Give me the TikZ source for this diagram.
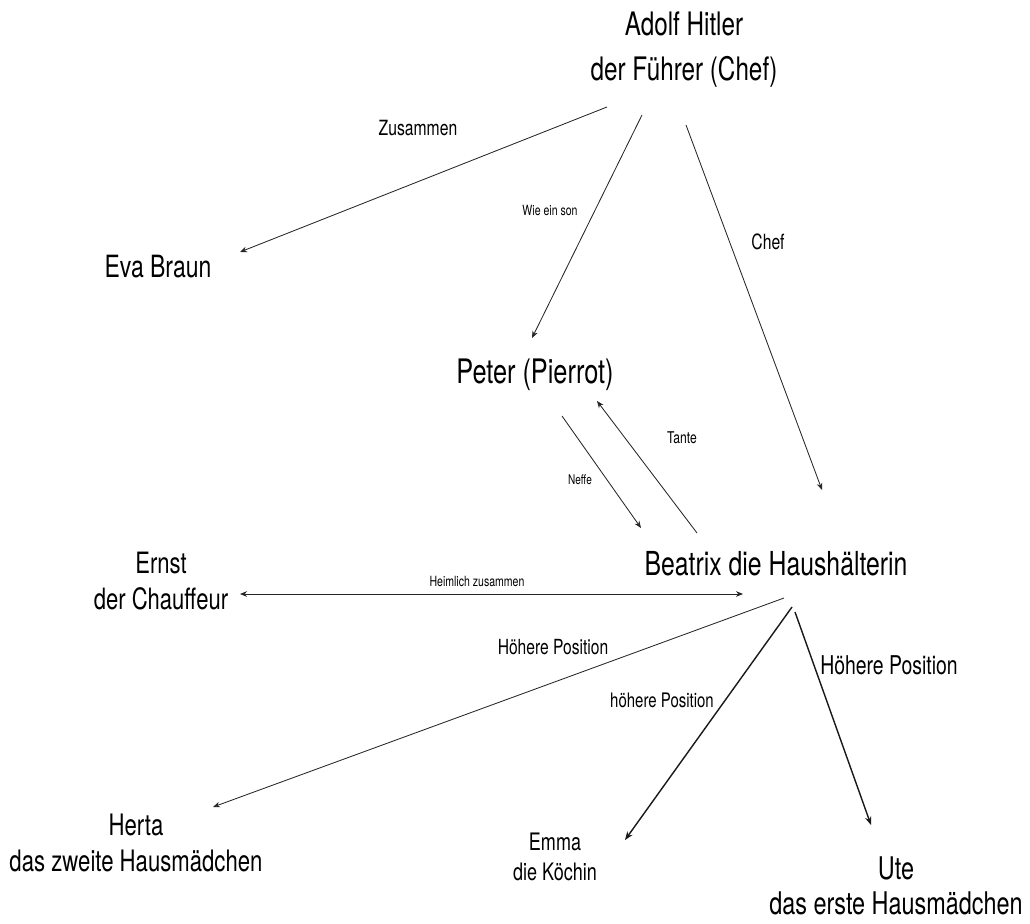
\documentclass[tikz,border=0pt]{standalone}
\usepackage{fontspec}
\setmainfont{TeX Gyre Heros}[FakeStretch=0.75]
\usetikzlibrary{arrows.meta,calc}

\newcommand{\fsz}[2]{\fontsize{#1pt}{#2pt}\selectfont}

\tikzset{
  person/.style={align=center, inner sep=0pt},
  rellabel/.style={inner sep=0pt},
  link/.style={line width=0.6pt, draw=black!85, -{Stealth[length=5pt,width=4pt]}},
  bothlink/.style={line width=0.6pt, draw=black!85, {Stealth[length=5pt,width=4pt]}-{Stealth[length=5pt,width=4pt]}},
  boldlink/.style={line width=1pt, draw=black!90, -{Stealth[length=6pt,width=4.5pt]}}
}

\begin{document}
\begin{tikzpicture}[x=0.025cm, y=-0.025cm]
  \useasboundingbox (0,0) rectangle (1030,924);

  % People
  \node[person, font=\fsz{23}{32}] (hitler) at (684,50) {Adolf Hitler\\der Führer (Chef)};
  \node[person, font=\fsz{21.8}{25}] (eva) at (158,267) {Eva Braun};
  \node[person, font=\fsz{24}{27}] (peter) at (535,375) {Peter (Pierrot)};
  \node[person, font=\fsz{23.5}{27}] (beatrix) at (776,564) {Beatrix die Haushälterin};
  \node[person, font=\fsz{20.9}{25}] (ernst) at (161,581) {Ernst\\der Chauffeur};
  \node[person, font=\fsz{21}{25}] (herta) at (136,843) {Herta\\das zweite Hausmädchen};
  \node[person, font=\fsz{17.1}{21}] (emma) at (555,857) {Emma\\die Köchin};
  \node[person, font=\fsz{22.2}{25}] (ute) at (896,886) {Ute\\das erste Hausmädchen};

  % Relation labels
  \node[rellabel, font=\fsz{14.9}{17}] (zusammen) at (418,128) {Zusammen};
  \node[rellabel, font=\fsz{10}{12}] (wieson) at (550,210) {Wie ein son};
  \node[rellabel, font=\fsz{14.9}{17}] (chef) at (768,242) {Chef};
  \node[rellabel, font=\fsz{11.5}{13}] (tante) at (682,438) {Tante};
  \node[rellabel, font=\fsz{9.5}{11}] (neffe) at (580,480) {Neffe};
  \node[rellabel, font=\fsz{10}{12}] (heimlich) at (477,581) {Heimlich zusammen};
  \node[rellabel, font=\fsz{14.8}{17}] (posherta) at (553,647) {Höhere Position};
  \node[rellabel, font=\fsz{14.2}{16}] (posemma) at (662,700) {höhere Position};
  \node[rellabel, font=\fsz{18.4}{21}] (posute) at (889,665) {Höhere Position};

  % Connectors from Hitler
  \draw[link] ($(hitler)+(-77,57)$) -- ($(eva)+(82,-15)$);
  \draw[link] ($(hitler)+(-42,65)$) -- ($(peter)+(-3,-37)$);
  \draw[link] ($(hitler)+(2,75)$) -- ($(beatrix)+(46,-74)$);

  % Peter and Beatrix
  \draw[link] ($(peter)+(27,41)$) -- ($(beatrix)+(-135,-36)$);
  \draw[link] ($(beatrix)+(-79,-31)$) -- ($(peter)+(62,26)$);

  % Ernst and Beatrix
  \draw[bothlink] ($(ernst)+(79,13)$) -- ($(beatrix)+(-33,30)$);

  % Beatrix to the staff
  \draw[link] ($(beatrix)+(8,34)$) -- ($(herta)+(77,-36)$);
  \draw[boldlink] ($(beatrix)+(16,43)$) -- ($(emma)+(70,-17)$);
  \draw[boldlink] ($(beatrix)+(19,48)$) -- ($(ute)+(-25,-61)$);

\end{tikzpicture}
\end{document}
